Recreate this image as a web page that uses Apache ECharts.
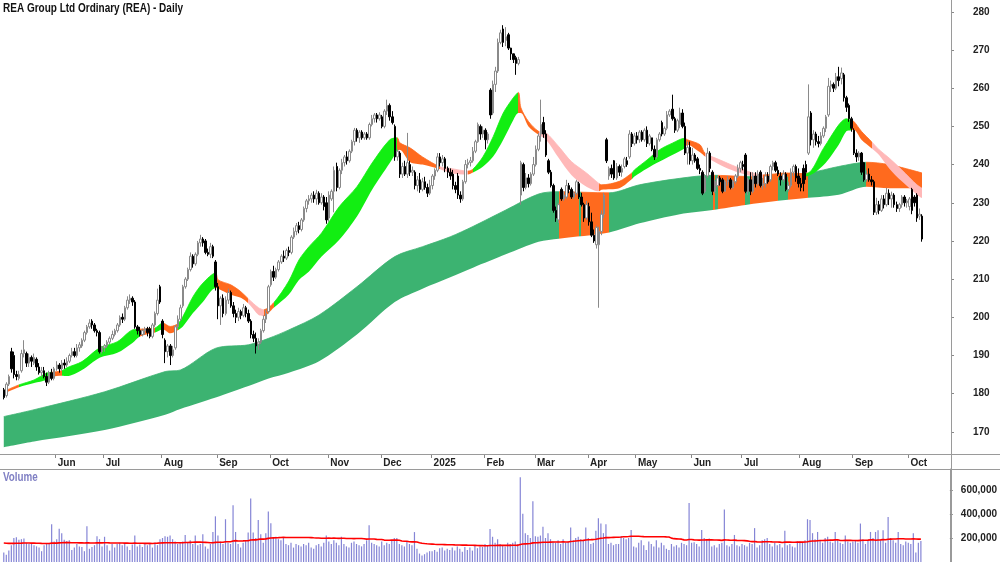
<!DOCTYPE html>
<html>
<head>
<meta charset="utf-8">
<script src="https://cdn.jsdelivr.net/npm/echarts@6/dist/echarts.min.js"></script>
<style>
  html, body { margin: 0; padding: 0; background: #fff; }
  #chart { width: 1000px; height: 562px; }
</style>
</head>
<body>
<div id="chart"></div>
<script>
// trading days per month, first month is partial (no label)
const monthNames = ['', 'Jun', 'Jul', 'Aug', 'Sep', 'Oct', 'Nov', 'Dec', '2025', 'Feb', 'Mar', 'Apr', 'May', 'Jun', 'Jul', 'Aug', 'Sep', 'Oct'];
const monthBars = [21, 19, 23, 22, 21, 23, 21, 20, 21, 20, 21, 19, 22, 20, 23, 21, 22, 6];

const opens = [
  181,179.5,182.5,191,190,185,184,186,190.5,190.5,188,189.5,188,189,187,185.5,186,184.5,183,185.5,184,
  186.5,187.5,186.5,188,187.5,188.5,190,191,190,192,192.5,194,196,197.5,199,198,196.5,196,191,
  192,192.5,193.5,194.5,195.5,196.5,198,200,199.5,202.5,204.5,205,204,197.5,196.5,195.5,196.5,197,197,195,198,201,208,
  199,194,191,192.5,190,192,197.5,199.5,203,208,210,212.5,216,214,216.5,219.5,220.5,220,217,216.5,218.5,214.5,
  208,203,205,201,204.5,206.5,203,201,200,201.5,200.5,202.5,201,199,195.5,194.5,193,193.5,196.5,199.5,201.5,
  208.5,212,210.5,212.5,214.5,216,215.5,217.5,217,221,222.5,224,223,225.5,228.5,230.5,231,232,231,232.5,230,231.5,230,
  226,231,233,239.5,234,238.5,240.5,242,241,243.5,246,249,247,248.5,247,248,247,250.5,252,253,252,
  252.5,250,254,255.5,252.5,250,242,243,237.5,239.5,237.5,240,238,238,234.5,236,233.5,235.5,234,232.5,
  234.5,237,238.5,242,240.5,241.5,239,238,237.5,234.5,237,232,231,235.5,240,240.5,241,243.5,246,250,248,
  249,246.5,259.5,253.5,261,264.5,272,275.5,272.5,274,270.5,269,268,266.5,232,240,234,236.5,235,237.5,
  240,244,248,251,248,241,238,234.5,228,225.5,233.5,231,231.5,234.5,233.5,231.5,232.5,235,231.5,229.5,226,
  229,225,221.5,219,219,222.5,227,246.5,237,239,241,236.5,239.5,238,239.5,241,242,248,245.5,
  247.5,246.5,248.5,246.5,249,245.5,247,244,242,246.5,251,248,249.5,253,254.5,252,249,250.5,253.5,250,243,244.5,
  241,242.5,241.5,239,238,233,237,243,238,233,234.5,236.5,236,233,235.5,236,234,235.5,237,239,
  240,242.5,233,236,233,237,235,238,234.5,235,237,236,239.5,240.5,238.5,237,236,237.5,233.5,234.5,238,239.5,237,
  235,239,240,243,253.5,246.5,248,246,245.5,247.5,249.5,253,260.5,261,260,263,262.5,263.5,257.5,255.5,252,
  249,243,242,243,240.5,236,237.5,236,235.5,227.5,229.5,228,231,229.5,232.5,231,232,229.5,228.5,229.5,231.5,230,
  229,233.5,231.5,232,226.5,226.5
];
const closes = [
  179,182.5,184.5,186.5,185,184.5,185,190.5,191.5,188,189.5,188.5,189.5,187,185.5,186,184.5,183,185.5,184,186.5,
  187.5,186.5,188,187.5,188.5,190,191,190,192,192.8,194,196,197.5,198.5,198,196.5,196,191,192,
  192.5,193.5,194.5,195.5,196.5,198,200,199.5,202.5,204.5,205,204,197.5,196.5,195.5,196.5,197,196,195,198,201,204.5,204,
  195.5,191,192.5,190,191.5,197.5,199.5,202.5,208,210,212.5,216,214,216.5,219.5,220.5,219.5,217,216.5,218.5,216,208,
  203,205,201,204.5,206.5,203,201,200,201.5,200.5,202.5,201,199,195.5,194.5,192.5,193.5,196.5,199.5,201,208,
  212,210.5,212.5,214.5,216,215.5,217.5,217,221,222.5,224,223,225.5,228.5,230.5,231,232,231,232.5,230,231.5,229,225.5,
  232,233,238.5,234,238.5,240.5,242,241,243.5,246,249,247,248.5,247,248,247,250.5,252,253,252,253,
  250,254,255.5,252.5,251,242,243.5,237.5,239.5,237.5,240.5,238,238.5,234.5,236,233.5,235.5,234,232.5,234.5,
  237,238.5,242,240.5,241.5,239,238,237,234.5,233.5,232,231,235.5,240,240.5,241,243.5,246,250.5,248,249,
  246.5,248,253,261,264.5,272,274.5,272,273.5,270.5,269,267.5,266.5,267.5,240.5,234,236.5,235,237.5,240,
  244,247.5,250.5,248,242.5,238,234.5,228,226,229.5,231,232,234.5,233.5,231.5,232.5,235.5,231.5,229.5,226,229.5,
  225,221.5,220,223.5,222.5,227,232,241,239,237.5,236.5,239.5,238,239,241.5,240,248,245.5,247.5,
  246.5,248.5,246.5,249,245.5,247.5,244,242,246.5,248,248,249.5,253,254,252,249,251.5,253.5,250,243,244.5,241,
  242.5,241,239,238.5,232.5,236.5,243,239,233,235.5,236.5,235.5,233,235.5,236,234,235.5,237,239,240.5,
  239.5,233,236,233,237,235,237.5,234.5,235,237,235.5,239.5,240.5,238.5,237.5,236,237.5,233.5,234.5,238,239.5,236.5,235,
  234,235,238,252.5,246.5,248,246,245.5,247.5,249.5,252.5,260.5,261,260,263,262,264,257.5,255,252,249.5,
  243,242,243,238,236,237.5,236,235.5,227.5,229.5,228,231,229.5,232.5,231,232,229.5,228.5,229.5,231.5,230,230.5,
  231,228,230,226,227,220.5
];
const lows = [
  178.5,179,182,185.5,184,183.5,183.5,185.5,189.5,187,187,187,187.5,186,185,184.5,184,182,182.5,183.5,183.5,
  186,185.5,186,186.5,187,188,189.5,189.5,189.5,191,192,193.5,195.5,197,197,196,195,190.5,190.5,
  191,192,193,194,195,196,197.5,198.5,199,202,203.5,203,197,195.5,195,195,195.5,195,194.5,194.5,197.5,200.5,203.5,
  194.5,188,189.5,187.5,189.5,191.5,197,199,202.5,207.5,209.5,212,213,213.5,216,218.5,218.5,216.5,216,215.5,215.5,207,
  199.5,198,200,200.5,203.5,202.5,200,198.5,199,199.5,200,200,198.5,194.5,193.5,190.5,191.5,193,196,198.5,201,
  208,209.5,210,212,214,214.5,215,216,216.5,220.5,221.5,222,222.5,225,227.5,229.5,230,230,229.5,229.5,229.5,228,224.5,
  225,230.5,227.5,233,233.5,237.5,239.5,240,240.5,243,245,246,245.7,246.5,246.5,246.5,246.5,250,251,251,251.5,
  249.5,249.5,253,251.5,250.5,241,241,236.5,236.5,237,236.5,237,237,233.5,233,232.6,233,233.4,231.5,232,
  233.5,236,238,239.5,239.5,238,236.5,236,233.5,232.5,231,230,230.5,235,239,239.5,240.5,243,245.7,246.5,247,
  244,245.5,252,253,259,264,271.5,270.8,271,270,267.4,266.6,263.5,266,229.5,233,233.5,234,234.5,237,
  239.5,243.5,246,247,242,237.5,234,227.4,225,224.7,230.5,230.5,231,232.5,231,231,232,231,229,225,225.5,
  224,221,219.5,218,202.5,221.5,226,240.4,236,236.5,236,236,237,236.8,239,239.4,241.5,244.6,245,
  245.5,245.7,246,246,244.6,245,243.5,241.2,241.5,246,247.4,247.5,249,252.5,251.5,248.3,248.5,249.5,249.5,242.5,240,240,
  240,240.5,238.6,237.5,232,232.5,236.5,238,232,232.5,234,234.5,232.5,232.9,234.5,233.5,233.5,235,236.5,238,
  238.5,232.5,232,232,232.5,234,234.5,234,233.5,234,235,235.5,238.5,238,237,234.5,235.5,233,232.9,234,237,235.5,234,
  233,233,236,242.5,245,244.4,245,244.5,245,247,248.5,252.5,259,259,259.5,260.5,261,256.5,253.8,251.2,248.6,
  242.5,240.7,241,237.3,235.5,235.5,235.5,234.5,226.8,226.8,227,227.6,228.5,229,229.4,228.7,228.7,227.6,227.6,228.7,229,228.7,
  228,227,229,225,225.5,219.8
];
const highs = [
  181.5,183,185,192,191,186,186,191.5,194,191,190.5,190,190.5,189.5,188,187,187,185.5,186,186.5,187,
  188.5,188,188.8,189,189.5,190.5,192,192,193,193.5,194.5,196.5,198,199.5,199.5,198.5,197,196.5,192.5,
  193,194,195,196.5,197,198.5,200.5,201,203,205.5,206,205.5,204.5,198,197.5,197,197.5,197.5,197.5,198.5,201.5,207.5,208.5,
  199.5,194.5,193,193,192.5,198,200.5,203.3,208.5,210.5,213,217,216.5,217,220,221.6,221,220.5,218,219.5,219,215,
  209,205.5,206,205.5,207.5,207,204,202,202.5,202,203.5,203,202,199.5,196.5,196,194.5,197,200.5,202,208.5,
  212.5,213.5,213,215,216.5,217.5,218,218.5,221.5,223.5,224.7,225,226,229,231,232,232.6,233,233.4,233,232.5,232,231.5,
  233,233.5,239.5,240.5,239,241.5,242.5,243.5,244,246.5,249.6,249.5,249,249,248.5,248.5,251,253,253.5,253.5,253.7,
  253,254.5,257,256,254,250.5,244,243.5,240.5,241,248.3,241,239.5,238.5,237,237.8,236.5,236.8,235,236,
  237.5,239,243,243,242.5,242,239.5,239,238.6,235.5,237.8,233,236,241.2,241.5,242,244.6,246.5,251,250.5,250,
  249.5,248.5,260,262,265.6,273,275.3,276.5,276,274.5,270.6,268.5,268.5,268.2,241,240.5,237.8,237.5,238,242,
  245,248.3,257,252.5,249,241.5,238.6,235,229,230,234,233,236,235.2,234,233,236,235.5,232.6,230,230.5,
  230,227.4,223,224,223.7,228,232.6,247,239.5,240,241.2,240.4,240,240,242,242,249,248.5,248.3,
  248.5,249,249,249.5,250,248,247,245,247,248.5,251.5,250,254,254.5,258.3,252.5,252,254.9,254.5,251,246,246,
  244.4,243,242,240,238.5,237.5,244.4,243.5,238.5,236,237,237,236.5,236,237,236.5,236,237.5,240,241,
  241,243,236.5,238,238,238,238.5,238.5,236.5,238,238,240,241,241,239.5,238,238.5,238,235.5,239,240,240,239,
  236.5,240,241,261,254,249,248.6,247.5,248.5,250,253,262.7,262,261.5,264,265.6,265.4,264,258,256,252.5,
  249.5,244,243.5,243.3,240.7,238.5,239,237,236,231.3,230.5,232,232,233.9,233.5,232.9,232.5,230.3,230,232,232,231,
  231.5,233.9,232,232.5,228.5,227
];
// daily volume, thousands of shares
const volumes = [
  80,60,95,140,200,205,185,190,195,160,150,150,140,130,120,90,140,150,150,315,170,
  190,276,240,185,175,180,100,120,150,130,125,90,298,110,125,140,215,190,130,
  210,140,95,150,120,150,160,140,150,130,100,145,220,130,145,125,150,140,150,120,160,140,190,
  200,215,210,220,190,170,150,160,170,225,160,180,150,220,140,150,230,130,110,150,250,380,
  220,170,150,356,160,150,473,250,150,120,160,180,245,528,245,200,350,230,160,240,421,
  323,200,210,190,180,200,150,140,160,120,150,140,130,150,140,160,120,110,140,150,130,160,220,
  170,150,180,160,140,210,150,130,120,160,170,150,140,130,150,180,306,160,150,140,130,
  170,140,160,150,180,200,200,150,140,130,170,150,140,249,110,70,55,65,80,90,
  90,100,85,115,120,95,110,100,120,95,130,110,85,125,100,120,95,135,115,130,125,
  150,140,274,210,160,190,150,140,130,160,150,160,170,150,706,402,240,225,200,506,
  215,210,220,293,200,240,190,170,160,180,150,190,160,170,287,180,200,210,190,180,287,
  200,150,160,260,364,320,240,315,150,160,140,150,150,215,200,190,200,266,130,
  120,160,180,140,100,170,150,130,180,120,160,140,110,100,150,130,140,120,160,150,140,492,
  160,165,150,130,266,200,190,195,130,140,120,150,160,437,140,130,150,225,140,130,
  150,140,130,160,150,282,120,140,180,190,200,150,130,160,140,150,120,260,140,150,130,120,170,
  170,160,180,356,350,240,190,250,180,160,200,210,170,160,250,180,160,150,220,170,160,
  170,180,160,320,190,150,180,250,200,250,265,180,265,160,375,200,180,160,250,150,140,170,
  160,150,240,80,160,175
];
const volumeAvgBefore = 159; // level of the average line before the first bar
const volumeAvgDays = 60;

// ribbons: [bar, upper, lower]
const shortRibbon = [
  [0,180.6,180.0],[6,182.3,181.7],[12,183.6,182.8],[17,185.4,183.6],[19,185.6,184.4],[23,186.0,184.7],
  [25,186.8,184.6],[31,188.4,186.2],[38,192.0,189.4],[45,193.6,190.7],[51,196.7,193.3],[54,196.9,195.0],
  [60,197.2,196.0],[63,198.5,196.9],[66,197.6,195.8],[69,198.3,196.6],[71,200.2,197.6],[75,205.4,201.1],
  [79,209.0,204.1],[84,211.6,207.7],[85,209.8,207.5],[90,208.5,205.9],[94,206.7,205.1],[97,204.8,203.6],
  [101,202.5,200.6],[103,202.0,200.3],[107,203.8,202.5],[113,209.5,206.0],[117,215.0,209.8],[121,218.5,212.0],
  [126,222.1,215.9],[133,229.0,220.3],[140,234.2,226.4],[146,240.4,233.4],[153,246.5,240.4],[156,247.0,243.5],
  [157,245.7,243.9],[161,244.4,240.7],[166,242.0,240.0],[173,239.4,238.8],[177,239.0,237.8],[184,238.3,237.4],
  [186,238.8,237.9],[190,242.1,239.5],[194,247.3,242.1],[198,253.5,246.5],[202,257.5,251.7],[204,258.9,253.5],
  [205,254.9,253.5],[208,251.3,250.0],[212,248.7,247.8],[215,248.3,246.5],[220,244.7,241.7],[225,240.8,237.3],
  [231,237.8,234.2],[236,235.0,233.0],[237,234.7,233.4],[244,235.6,233.8],[249,237.8,236.2],[250,238.6,236.9],
  [255,241.2,239.0],[260,243.9,240.8],[265,245.6,242.5],[270,246.9,244.3],[271,246.5,245.2],[276,245.2,243.2],
  [278,243.0,242.1],[284,241.2,239.9],[290,239.5,238.2],[297,237.8,236.9],[301,237.3,236.4],[310,237.8,236.8],
  [318,237.6,236.9],[325,244.3,239.9],[331,250.4,245.2],[334,252.0,248.7],[336,251.5,249.0],[337,251.3,249.1],
  [340,248.7,246.5],[344,246.0,244.3],[347,243.9,242.5],[351,241.7,239.0],[356,238.6,235.6],[362,234.7,232.1],
  [364,233.8,231.2]
];
// trend state of the short ribbon from a bar onwards
const shortState = [
  [0,'down'],[6,'up'],[19,'down'],[23,'up'],[54,'down'],[60,'up'],[63,'down'],[69,'up'],[84,'down'],
  [97,'weak'],[103,'down'],[107,'up'],[156,'down'],[173,'weak'],[184,'down'],[186,'up'],[204,'down'],
  [212,'weak'],[236,'down'],[249,'up'],[270,'down'],[278,'weak'],[301,'down'],[318,'up'],[336,'down'],[344,'weak']
];
const longRibbon = [
  [0,174.0,166.0],[12,175.8,167.5],[40,180.5,170.5],[64,185.8,174.5],[70,186.2,176.0],[84,191.9,179.0],
  [97,192.8,182.0],[105,194.5,184.0],[113,196.7,185.5],[125,200.6,188.5],[140,208.0,195.5],[155,215.9,204.0],
  [166,218.5,207.5],[177,221.1,210.5],[186,223.8,213.0],[199,228.1,216.5],[212,232.3,219.8],[220,232.9,220.6],
  [240,232.6,222.2],[252,234.7,224.6],[268,236.4,227.0],[281,237.2,228.1],[294,236.9,229.4],[307,237.3,230.5],
  [319,237.8,231.3],[331,239.5,232.1],[342,240.6,234.2],[351,240.0,233.8],[364,237.8,233.8]
];
const longState = [
  [0,'up'],[220,'down'],[228,'up'],[229,'down'],[240,'up'],[281,'down'],[282,'up'],[283,'down'],
  [294,'up'],[296,'down'],[307,'up'],[311,'down'],[319,'up'],[342,'down']
];
const priceTicks = [170, 180, 190, 200, 210, 220, 230, 240, 250, 260, 270, 280];
const volumeTicks = [200000, 400000, 600000];

const LEAD = 1;
const SLOTS = 377;
const FONT = "'Liberation Sans', Arial, sans-serif";
const shortColors = { up: '#12ee12', down: '#ff6a1e', weak: '#ffb8b8' };
const longColors = { up: '#3cb371', down: '#ff6a1e' };

const cats = [];
for (let s = 0; s < SLOTS; s++) cats.push(String(s));
const labelAt = {};
let pos = 0;
monthBars.forEach((n, i) => {
  if (monthNames[i]) labelAt[pos + LEAD] = monthNames[i];
  pos += n;
});

const candles = closes.map((c, k) => [k + LEAD, opens[k], c, lows[k], highs[k]]);
const volData = volumes.map((v, k) => [k + LEAD, v * 1000]);
const volAvg = volumes.map((v, k) => {
  let sum = 0;
  for (let j = k - volumeAvgDays + 1; j <= k; j++) sum += j >= 0 ? volumes[j] : volumeAvgBefore;
  return [k + LEAD, sum / volumeAvgDays * 1000];
});

// colour pieces along the bar axis for a ribbon
function pieces(states, colors) {
  return states.map(([k, s], i) => ({
    gte: i === 0 ? -10 : k + LEAD,
    lt: i + 1 < states.length ? states[i + 1][0] + LEAD : SLOTS + 10,
    color: colors[s]
  }));
}

// a ribbon = transparent lower edge + stacked band up to the upper edge
function ribbonSeries(name, verts, z) {
  const common = {
    type: 'line', xAxisIndex: 0, yAxisIndex: 0, stack: name, z: z,
    smooth: 0.3, symbol: 'none', showSymbol: false, silent: true,
    encode: { x: 0, y: 1 }
  };
  return [
    Object.assign({}, common, {
      name: name + '-base',
      lineStyle: { width: 0, opacity: 0 },
      data: verts.map(v => [v[0] + LEAD, v[2]])
    }),
    Object.assign({}, common, {
      name: name,
      lineStyle: { width: 0.8 },
      areaStyle: { opacity: 1 },
      data: verts.map(v => [v[0] + LEAD, v[1] - v[2]])
    })
  ];
}

const chart = echarts.init(document.getElementById('chart'), null, { renderer: 'canvas' });
const lineCol = '#9a9a9a';
const labelStyle = { fontFamily: FONT, fontWeight: 'bold', fontSize: 10, color: '#222' };

chart.setOption({
  animation: false,
  backgroundColor: '#fff',
  grid: [
    { left: 0, right: 49, top: 0, height: 454, containLabel: false },
    { left: 0, right: 49, top: 469, height: 94, containLabel: false }
  ],
  visualMap: [
    { type: 'piecewise', show: false, dimension: 0, seriesIndex: 1, pieces: pieces(longState, longColors) },
    { type: 'piecewise', show: false, dimension: 0, seriesIndex: 3, pieces: pieces(shortState, shortColors) }
  ],
  xAxis: [
    {
      type: 'category', gridIndex: 0, data: cats, boundaryGap: true,
      axisLine: { show: false },
      axisTick: { show: true, length: 4, interval: (i) => !!labelAt[i], lineStyle: { color: '#888' } },
      axisLabel: Object.assign({
        interval: (i) => !!labelAt[i],
        formatter: (v, i) => labelAt[i] || '',
        align: 'left', margin: 4, padding: [0, 0, 0, 1]
      }, labelStyle),
      splitLine: { show: false }
    },
    {
      type: 'category', gridIndex: 1, data: cats, boundaryGap: true,
      axisLine: { show: false }, axisTick: { show: false }, axisLabel: { show: false }
    }
  ],
  yAxis: [
    {
      type: 'value', gridIndex: 0, position: 'right', min: 164.2, max: 283.1,
      axisLine: { show: true, lineStyle: { color: lineCol } },
      axisTick: { show: true, length: 3, customValues: priceTicks, lineStyle: { color: '#888' } },
      axisLabel: Object.assign({ customValues: priceTicks, margin: 22 }, labelStyle),
      splitLine: { show: false }
    },
    {
      type: 'value', gridIndex: 1, position: 'right', min: 0, max: 774000,
      axisLine: { show: true, lineStyle: { color: lineCol } },
      axisTick: { show: true, length: 3, customValues: volumeTicks, lineStyle: { color: '#888' } },
      axisLabel: Object.assign({
        customValues: volumeTicks, margin: 11,
        formatter: (v) => v.toLocaleString('en-US')
      }, labelStyle),
      splitLine: { show: false }
    }
  ],
  series: [
    ...ribbonSeries('long', longRibbon, 1),
    ...ribbonSeries('short', shortRibbon, 2),
    {
      type: 'candlestick', name: 'REA', xAxisIndex: 0, yAxisIndex: 0, z: 5,
      barWidth: 2,
      encode: { x: 0, y: [1, 2, 3, 4] },
      itemStyle: { color: '#ffffff', color0: '#000000', borderColor: '#8a8a8a', borderColor0: '#000000', borderWidth: 1 },
      data: candles
    },
    {
      type: 'bar', name: 'Volume', xAxisIndex: 1, yAxisIndex: 1,
      barWidth: 1.2, itemStyle: { color: '#8585d6' },
      encode: { x: 0, y: 1 },
      data: volData
    },
    {
      type: 'line', name: 'Volume avg', xAxisIndex: 1, yAxisIndex: 1,
      showSymbol: false, symbol: 'none', z: 4,
      lineStyle: { color: '#ff0000', width: 1.6 },
      encode: { x: 0, y: 1 },
      data: volAvg
    }
  ],
  graphic: [
    { type: 'line', shape: { x1: 0, y1: 454.5, x2: 1000, y2: 454.5 }, style: { stroke: lineCol, lineWidth: 1 }, z: 10 },
    { type: 'line', shape: { x1: 0, y1: 469.5, x2: 1000, y2: 469.5 }, style: { stroke: lineCol, lineWidth: 1 }, z: 10 },
    { type: 'line', shape: { x1: 951.5, y1: 0, x2: 951.5, y2: 562 }, style: { stroke: lineCol, lineWidth: 1 }, z: 10 },
    {
      type: 'text', x: 3, y: 2, scaleX: 0.8, z: 10,
      style: { text: 'REA Group Ltd Ordinary (REA) - Daily', fontFamily: FONT, fontWeight: 'bold', fontSize: 12.5, fill: '#111' }
    },
    {
      type: 'text', x: 3, y: 472, scaleX: 0.82, z: 10,
      style: { text: 'Volume', fontFamily: FONT, fontWeight: 'bold', fontSize: 12, fill: '#8080c4' }
    }
  ]
});
</script>
</body>
</html>
